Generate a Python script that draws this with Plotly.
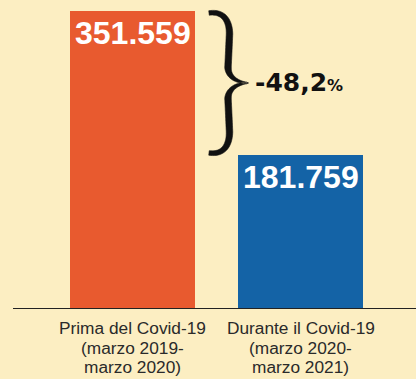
import numpy as np
import plotly.graph_objects as go

# Data
category_lines = [
    ["Prima del Covid-19", "(marzo 2019-", "marzo 2020)"],
    ["Durante il Covid-19", "(marzo 2020-", "marzo 2021)"],
]
values = [351559, 181759]
change_label = "-48,2"
bar_colors = ["#E85A2F", "#1463A6"]

BG = "#FCEEC2"
W, H = 416, 379
BASE_PX = 309          # pixel row of the baseline
TOP_PX = 11            # pixel row of the tallest bar top
X0_PX, STEP_PX = 132.5, 168.0
PX_PER_UNIT = (BASE_PX - TOP_PX) / max(values)

ymax = BASE_PX / PX_PER_UNIT
xmin = (0 - X0_PX) / STEP_PX
xmax = (W - X0_PX) / STEP_PX


def px_x(px):
    return (px - X0_PX) / STEP_PX


def px_y(py):
    return (BASE_PX - py) / PX_PER_UNIT


def y_px(v):
    return BASE_PX - v * PX_PER_UNIT


xs = list(range(len(values)))

fig = go.Figure(
    go.Bar(
        x=xs,
        y=values,
        width=125 / STEP_PX,
        marker=dict(color=bar_colors, line=dict(width=0)),
        hoverinfo="skip",
    )
)

# value labels inside the bars
for x, v in zip(xs, values):
    fig.add_annotation(
        x=x, y=v, yanchor="top", xanchor="center", yshift=-2,
        text=f"<b>{v:,}</b>".replace(",", "."),
        showarrow=False,
        font=dict(family="Liberation Sans", size=32, color="white"),
    )


# curly brace between the two bar heights, drawn as a filled outline
def bezier(p0, p1, p2, p3, n=24):
    t = np.linspace(0, 1, n)[:, None]
    return ((1 - t) ** 3) * p0 + 3 * ((1 - t) ** 2) * t * p1 \
        + 3 * (1 - t) * t ** 2 * p2 + t ** 3 * p3


top = y_px(values[0]) + 2
bot = y_px(values[1]) - 2
mid = (top + bot) / 2
P = lambda x, y: np.array([x, y], dtype=float)

seg1 = bezier(P(209, top), P(223, top - 2), P(229.5, top + 7), P(229.5, top + 21))
seg2 = bezier(P(229.5, top + 21), P(229, top + 33), P(228.5, mid - 26), P(228, mid - 16))
seg3 = bezier(P(228, mid - 16), P(228, mid - 6), P(237, mid - 0.5), P(248, mid))
upper = np.vstack([seg1, seg2[1:], seg3[1:]])
thick = np.concatenate([
    np.linspace(4.5, 6.5, len(seg1)),
    np.full(len(seg2) - 1, 6.5),
    np.linspace(6.5, 1.2, len(seg3) - 1),
])
lower = upper[::-1].copy()
lower[:, 1] = 2 * mid - lower[:, 1]
center = np.vstack([upper, lower[1:]])
th = np.concatenate([thick, thick[::-1][1:]])

tang = np.gradient(center, axis=0)
tang /= np.linalg.norm(tang, axis=1)[:, None]
norm = np.stack([-tang[:, 1], tang[:, 0]], axis=1)
left = center + norm * th[:, None] / 2
right = center - norm * th[:, None] / 2
outline = np.vstack([left, right[::-1]])

path = "M " + " L ".join(f"{px_x(px):.5f},{px_y(py):.2f}" for px, py in outline) + " Z"
fig.add_shape(type="path", path=path, xref="x", yref="y",
              fillcolor="#111111", line=dict(color="#111111", width=0.6))

fig.add_annotation(
    x=px_x(253), y=px_y(mid), xanchor="left", yanchor="middle",
    text=f"<b>{change_label}</b><span style='font-size:16px'><b>%</b></span>",
    showarrow=False,
    font=dict(family="DejaVu Sans", size=25, color="#111111"),
)

# baseline
fig.add_shape(type="line", xref="x", yref="y",
              x0=px_x(13), x1=xmax, y0=0, y1=0,
              line=dict(color="#222222", width=2))

# category labels under the baseline
for x, lines in zip(xs, category_lines):
    for i, line in enumerate(lines):
        fig.add_annotation(
            x=x, y=0, yanchor="middle", xanchor="center",
            yshift=-(19 + 19.5 * i),
            text=line, showarrow=False,
            font=dict(family="Liberation Sans", size=17.3, color="#2a2a2a"),
        )

fig.update_layout(
    width=W, height=H,
    margin=dict(l=0, r=0, t=0, b=H - BASE_PX),
    paper_bgcolor=BG, plot_bgcolor=BG,
    showlegend=False,
    font=dict(family="Liberation Sans", color="#2a2a2a"),
)
fig.update_xaxes(range=[xmin, xmax], visible=False, showgrid=False, zeroline=False)
fig.update_yaxes(range=[0, ymax], visible=False, showgrid=False)

fig.write_html("out.html")
